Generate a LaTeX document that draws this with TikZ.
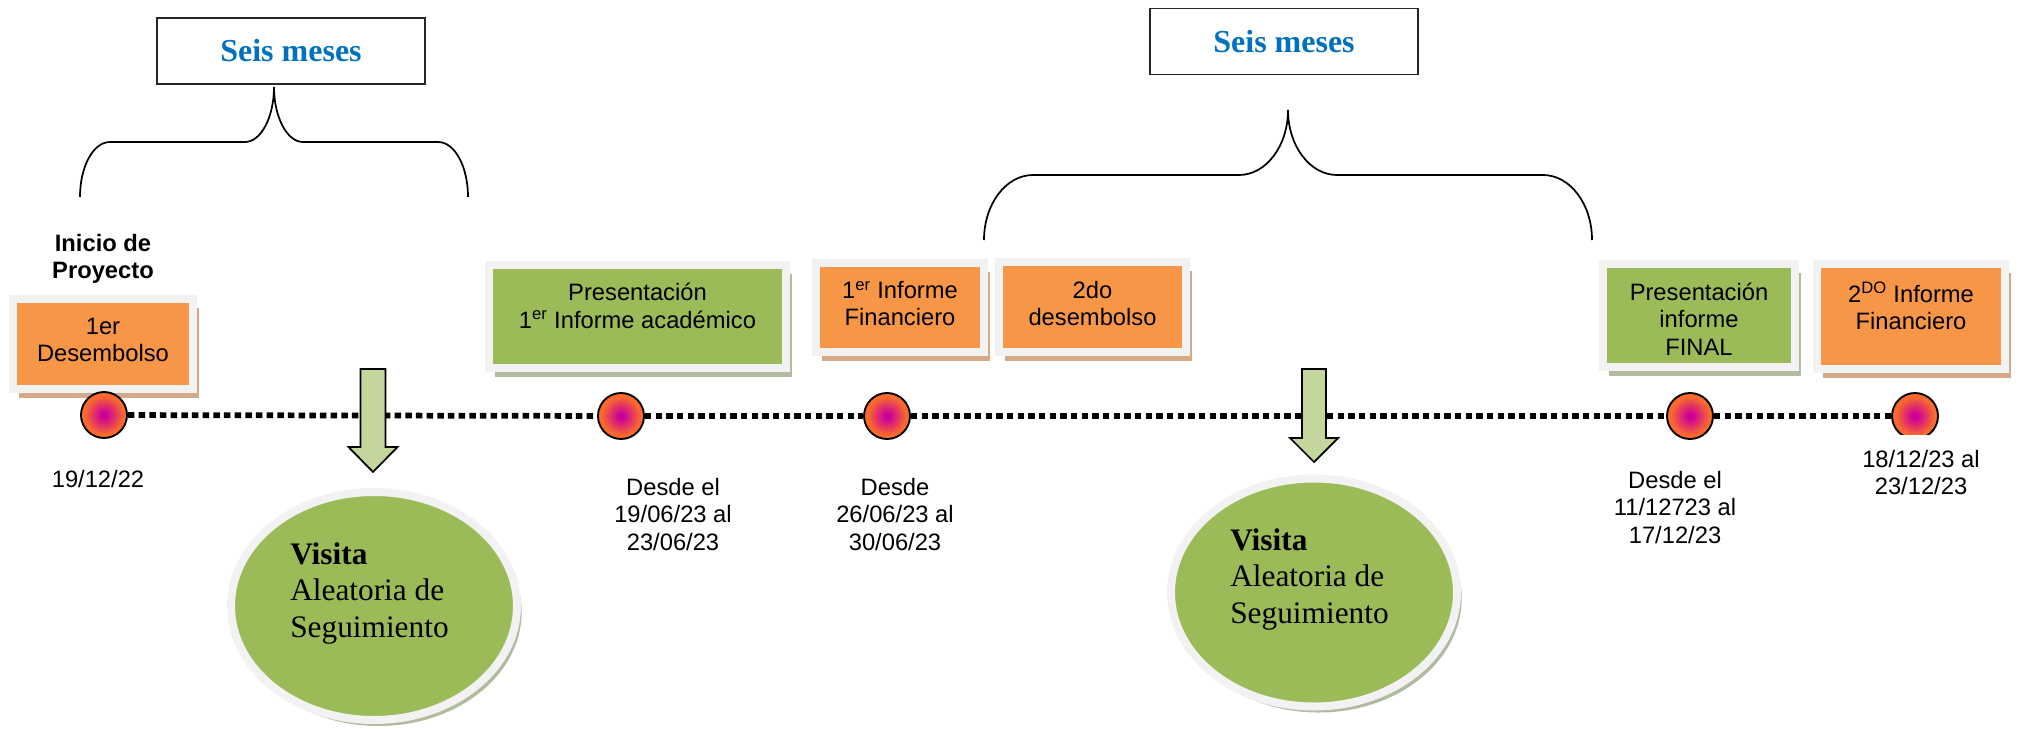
\documentclass[tikz,border=0pt]{standalone}
\usepackage{fontspec}
\setmainfont{Liberation Sans}
\newfontfamily\timesfont{Liberation Serif}
\usetikzlibrary{positioning,shadows,shapes.geometric}

\definecolor{boxorange}{HTML}{F79646}
\definecolor{boxgreen}{HTML}{9BBB59}
\definecolor{framegray}{HTML}{F2F2F2}
\definecolor{orangeshadow}{HTML}{D5A887}
\definecolor{greenshadow}{HTML}{B0BBA0}
\definecolor{arrowgreen}{HTML}{C3D69B}
\definecolor{mesesblue}{HTML}{0070C0}
\definecolor{dotcore}{HTML}{CC0099}
\definecolor{dotrim}{HTML}{FA6A2C}

\pgfdeclareradialshading{dotshade}{\pgfpoint{0bp}{0bp}}{color(0bp)=(dotcore); color(3bp)=(dotcore); color(21bp)=(dotrim); color(50bp)=(dotrim)}

\begin{document}
\begin{tikzpicture}[x=0.75pt, y=-0.75pt,
    boxframe/.style={rectangle, draw=framegray, line width=6pt, inner sep=0pt},
    obox/.style={boxframe, fill=boxorange, general shadow={fill=orangeshadow, shadow xshift=4.5pt, shadow yshift=-6.5pt}},
    gbox/.style={boxframe, fill=boxgreen, general shadow={fill=greenshadow, shadow xshift=4.5pt, shadow yshift=-6.5pt}},
    boxtext/.style={align=center, inner sep=0pt, font=\fontsize{17.8pt}{20.5pt}\selectfont},
    dot/.style={circle, draw=black, line width=1.4pt, minimum size=34.5pt, inner sep=0pt, shading=dotshade},
    timeline/.style={line width=4.3pt, dash pattern=on 4.9pt off 3.1pt},
    mesesbox/.style={rectangle, draw=black!85, line width=1.1pt, minimum width=201pt, minimum height=49.5pt, font=\timesfont\bfseries\fontsize{24pt}{28pt}\selectfont, text=mesesblue},
    brace/.style={line width=1.3pt},
    visit/.style={ellipse, fill=boxgreen, draw=framegray, line width=6pt, minimum width=214.5pt, minimum height=171pt, inner sep=0pt, general shadow={fill=greenshadow, shadow xshift=3.5pt, shadow yshift=-4.5pt}},
    visittext/.style={align=left, inner sep=0pt, font=\timesfont\fontsize{23.5pt}{27.4pt}\selectfont},
    blockarrow/.style={fill=arrowgreen, draw=black, line width=1.3pt}]
  \useasboundingbox (0,0) rectangle (2019,728);

  \node[mesesbox] (s1) at (291,51) {Seis meses};
  \node[mesesbox] (s2) at (1284,41.5) {Seis meses};

  \draw[brace] (80,197) .. controls (80,167) and (93,142) .. (110,142) -- (245,142) .. controls (261,142) and (274,117) .. (274,87);
  \draw[brace] (468,197) .. controls (468,167) and (455,142) .. (438,142) -- (303,142) .. controls (287,142) and (274,117) .. (274,87);
  \draw[brace] (984,240) .. controls (984,204) and (1006,175) .. (1033,175) -- (1239,175) .. controls (1266,175) and (1288,146) .. (1288,110);
  \draw[brace] (1592,240) .. controls (1592,204) and (1570,175) .. (1543,175) -- (1337,175) .. controls (1310,175) and (1288,146) .. (1288,110);

  \node[boxtext, font=\bfseries\fontsize{17.8pt}{20.5pt}\selectfont, anchor=north] (inicio) at (103,234) {Inicio de\\Proyecto};

  \node[obox, minimum width=135pt, minimum height=67.5pt] (d1) at (103,344) {};
  \node[gbox, minimum width=222.75pt, minimum height=77.25pt] (p1) at (637.5,316.5) {};
  \node[obox, minimum width=126pt, minimum height=66.75pt] (f1) at (900,307.5) {};
  \node[obox, minimum width=140.25pt, minimum height=67.5pt] (d2) at (1092.5,307) {};
  \node[gbox, minimum width=144pt, minimum height=77.25pt] (pf) at (1699,315.5) {};
  \node[obox, minimum width=141pt, minimum height=78.75pt] (f2) at (1911,316.5) {};

  \node[boxtext, below=17pt of d1.north] (d1t) {1er\\Desembolso};
  \node[boxtext, below=16.5pt of p1.north] (p1t) {Presentación\\1\textsuperscript{er} Informe académico};
  \node[boxtext, below=16.5pt of f1.north] (f1t) {1\textsuperscript{er} Informe\\Financiero};
  \node[boxtext, below=17pt of d2.north] (d2t) {2do\\desembolso};
  \node[boxtext, below=17pt of pf.north] (pft) {Presentación\\informe\\FINAL};
  \node[boxtext, below=16.5pt of f2.north] (f2t) {2\textsuperscript{DO} Informe\\Financiero};

  \node[dot] (c1) at (104,415) {};
  \node[dot] (c2) at (621,416) {};
  \node[dot] (c3) at (887,416) {};
  \node[dot] (c4) at (1690,416) {};
  \node[dot] (c5) at (1915,416) {};

  \path[timeline] (c1) edge (c2);
  \path[timeline] (c2) edge (c3);
  \path[timeline] (c3) edge (c4);
  \path[timeline] (c4) edge (c5);

  \node[boxtext, anchor=north] (t1) at (98,470) {19/12/22};
  \node[boxtext, anchor=north] (t2) at (673,478) {Desde el\\19/06/23 al\\23/06/23};
  \node[boxtext, anchor=north] (t3) at (895,478) {Desde\\26/06/23 al\\30/06/23};
  \node[boxtext, anchor=north] (t4) at (1675,471) {Desde el\\11/12723 al\\17/12/23};
  \node[boxtext, anchor=north, fill=white, inner ysep=11.25pt] (t5) at (1921,435) {18/12/23 al\\23/12/23};

  \draw[blockarrow] (360.5,369) -- (385.5,369) -- (385.5,447) -- (397.5,447) -- (373,472) -- (348.5,447) -- (360.5,447) -- cycle;
  \draw[blockarrow] (1302,369) -- (1326,369) -- (1326,438) -- (1338,438) -- (1314,462) -- (1290,438) -- (1302,438) -- cycle;

  \node[visit] (v1) at (374,606) {};
  \node[visit] (v2) at (1314,592.5) {};
  \node[visittext, anchor=north west] (v1t) at (290,542) {\textbf{Visita}\\Aleatoria de\\Seguimiento};
  \node[visittext, anchor=north west] (v2t) at (1230,528) {\textbf{Visita}\\Aleatoria de\\Seguimiento};
\end{tikzpicture}
\end{document}
